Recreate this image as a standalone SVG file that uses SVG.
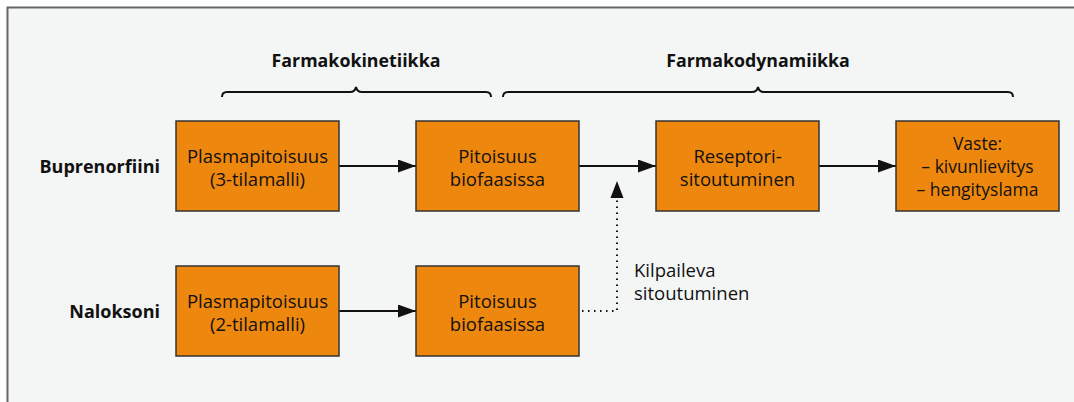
<svg xmlns="http://www.w3.org/2000/svg" width="1074" height="402" viewBox="0 0 1074 402">
<defs>
<style>
.bg{fill:#f4f6f6}
.frame{fill:none;stroke:#666;stroke-width:2}
.box{fill:#ee870e;stroke:#333;stroke-width:1.5}
.t{font-family:"Open Sans","Noto Sans",sans-serif;font-size:18.5px;fill:#111;text-anchor:middle}
.t2{font-family:"Open Sans","Noto Sans",sans-serif;font-size:17.5px;fill:#111;text-anchor:middle}
.lab{font-family:"Open Sans","Noto Sans",sans-serif;font-size:18px;font-weight:bold;fill:#111;text-anchor:end}
.hd{font-family:"Open Sans","Noto Sans",sans-serif;font-size:17.8px;font-weight:bold;fill:#111;text-anchor:middle}
.note{font-family:"Open Sans","Noto Sans",sans-serif;font-size:18.5px;fill:#111}
.ln{fill:none;stroke:#111;stroke-width:2}
.dot{fill:none;stroke:#111;stroke-width:2;stroke-dasharray:1.5 4.5}
.brace{fill:none;stroke:#111;stroke-width:2}
</style>
<marker id="ah" markerWidth="18" markerHeight="13" refX="18" refY="6.5" orient="auto" markerUnits="userSpaceOnUse">
<path d="M0,0 L18,6.5 L0,13 Z" fill="#111"/>
</marker>
</defs>
<rect x="0" y="0" width="1074" height="402" fill="#fff"/>
<rect class="bg" x="7" y="7" width="1067" height="395"/>
<path class="frame" d="M7.5,402 V7.5 H1074"/>

<g id="headers">
<text class="hd" x="356" y="67">Farmakokinetiikka</text>
<path class="brace" d="M222,97 Q222,92 227,92 H350 Q355,92 356,87 Q357,92 362,92 H486 Q491,92 491,97"/>
<text class="hd" x="758" y="67">Farmakodynamiikka</text>
<path class="brace" d="M503,97 Q503,92 508,92 H752 Q757,92 758,87 Q759,92 764,92 H1008 Q1013,92 1013,97"/>
</g>

<g id="label-buprenorfiini"><text class="lab" x="160" y="173">Buprenorfiini</text></g>
<g id="label-naloksoni"><text class="lab" x="160" y="318">Naloksoni</text></g>

<g id="connectors">
<line class="ln" x1="339" y1="166" x2="416" y2="166" marker-end="url(#ah)"/>
<line class="ln" x1="579" y1="166" x2="656" y2="166" marker-end="url(#ah)"/>
<line class="ln" x1="819" y1="166" x2="896" y2="166" marker-end="url(#ah)"/>
<line class="ln" x1="339" y1="311" x2="416" y2="311" marker-end="url(#ah)"/>
<path class="dot" d="M582,311 H617 V198"/>
<path d="M617,181 L623.5,198 L610.5,198 Z" fill="#111"/>
</g>

<g id="b1">
<rect class="box" x="176" y="121" width="163" height="90"/>
<text class="t" x="257.5" y="163">Plasmapitoisuus</text>
<text class="t" x="257.5" y="186">(3-tilamalli)</text>
</g>
<g id="b2">
<rect class="box" x="416" y="121" width="163" height="90"/>
<text class="t" x="497.5" y="163">Pitoisuus</text>
<text class="t" x="497.5" y="186">biofaasissa</text>
</g>
<g id="b3">
<rect class="box" x="656" y="121" width="163" height="90"/>
<text class="t" x="737.5" y="163">Reseptori-</text>
<text class="t" x="737.5" y="186">sitoutuminen</text>
</g>
<g id="b4">
<rect class="box" x="896" y="121" width="163" height="90"/>
<text class="t2" x="977.5" y="150">Vaste:</text>
<text class="t2" x="977.5" y="173">– kivunlievitys</text>
<text class="t2" x="977.5" y="196">– hengityslama</text>
</g>
<g id="n1">
<rect class="box" x="176" y="266" width="163" height="90"/>
<text class="t" x="257.5" y="308">Plasmapitoisuus</text>
<text class="t" x="257.5" y="331">(2-tilamalli)</text>
</g>
<g id="n2">
<rect class="box" x="416" y="266" width="163" height="90"/>
<text class="t" x="497.5" y="308">Pitoisuus</text>
<text class="t" x="497.5" y="331">biofaasissa</text>
</g>
<g id="note">
<text class="note" x="634" y="277">Kilpaileva</text>
<text class="note" x="634" y="300">sitoutuminen</text>
</g>
</svg>
